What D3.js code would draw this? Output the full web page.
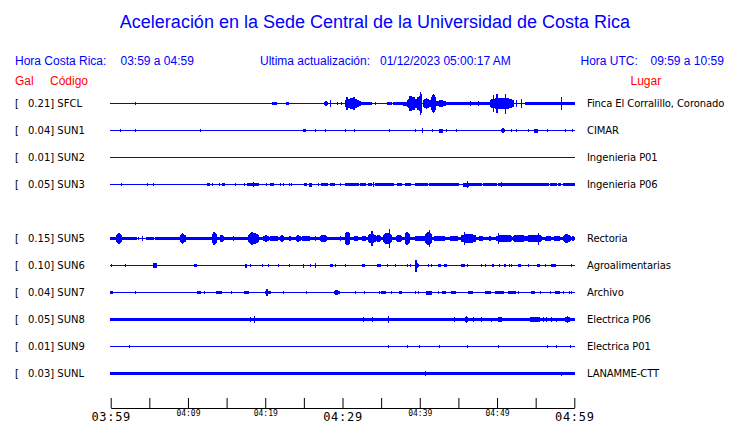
<!DOCTYPE html>
<html><head><meta charset="utf-8">
<script src="https://cdn.jsdelivr.net/npm/d3@7"></script>
<style>body{margin:0;background:#fff}svg{display:block}</style>
</head><body><svg id="c" width="740" height="423"></svg>
<script>
// ---------- data ----------
const title = "Aceleración en la Sede Central de la Universidad de Costa Rica";
const slots = ["SFCL","SUN1","SUN2","SUN3","SUN4","SUN5","SUN6","SUN7","SUN8","SUN9","SUNL"];
const codes = ["SFCL","SUN1","SUN2","SUN3","SUN5","SUN6","SUN7","SUN8","SUN9","SUNL"];
const places = ["Finca El Corralillo, Coronado","CIMAR","Ingenieria P01","Ingenieria P06","Rectoria","Agroalimentarias","Archivo","Electrica P06","Electrica P01","LANAMME-CTT"];
const peaks = [0.21,0.04,0.01,0.05,0.15,0.10,0.04,0.05,0.01,0.03];
const tickMinutes = [0,5,10,15,20,25,30,35,40,45,50,55,60];
const tickLabels = ["03:59","","04:09","","04:19","","04:29","","04:39","","04:49","","04:59"];
const majorLabels = ["03:59","04:29","04:59"];

// bursts: [startMinute, endMinute, halfAmplitude (gal)]
const sfcl = [[0.47,0.47,0.012],[3.19,3.19,0.023],[19.89,19.89,0.012],[20.4,20.4,0.012],[20.97,21.48,0.018],[21.25,21.25,0.023],[22.78,23.0,0.029],[27.65,28.08,0.041],[28.39,28.39,0.058],[29.34,29.34,0.023],[29.81,29.81,0.023],
 [30.33,32.05,0.09],[30.5,30.6,0.117],[31.4,31.5,0.117],[32.05,33.69,0.023],[32.05,32.5,0.041],
 [34.3,34.3,0.018],[35.85,36.37,0.023],[36.63,37.88,0.023],
 [37.88,38.4,0.035],[38.4,39.6,0.09],[38.7,38.9,0.134],[39.1,39.3,0.117],[39.6,40.03,0.117],[40.03,40.25,0.205],[40.47,41.33,0.088],[41.54,41.98,0.17],[42.19,43.27,0.058],
 [43.27,49.09,0.023],[46.6,46.6,0.041],[47.6,47.6,0.041],
 [49.09,52.11,0.1],[49.5,49.6,0.146],[49.96,50.0,0.164],[51.04,51.1,0.175],[52.55,52.55,0.058],[53.19,53.19,0.082],
 [53.62,60,0.023],[55.35,56.21,0.029],[58.37,58.37,0.117]];
const sun1 = [[1.25,1.25,0.023],[3.19,3.19,0.023],[8.37,8.37,0.012],[11.65,11.65,0.023],[17.3,17.3,0.012],[18.59,18.59,0.012],[24.94,25.15,0.023],[26.49,26.49,0.023],[27.78,27.78,0.023],[30.37,30.37,0.018],[31.54,31.54,0.018],[36.02,36.02,0.018],[38.01,38.01,0.012],[39.43,39.43,0.018],[40.34,40.34,0.041],[41.67,41.67,0.018],[42.54,42.92,0.035],[43.44,43.44,0.018],[44.74,44.74,0.018],[50.6,50.95,0.047],[51.9,51.9,0.018],[52.55,52.55,0.018],[54.06,54.06,0.018],[54.79,55.22,0.035],[56.51,56.51,0.018],[57.29,57.29,0.012],[58.8,58.8,0.018],[59.79,59.79,0.018]];
const sun2 = [[39.95,39.95,0.01]];
const sun3 = [[0.78,0.78,0.012],[1.34,1.34,0.029],[2.93,2.93,0.012],[4.36,4.36,0.012],[4.79,4.79,0.018],[5.57,5.57,0.023],[8.37,8.37,0.012],[12.55,12.73,0.029],[13.16,13.16,0.018],[14.06,14.06,0.018],[14.45,14.71,0.023],[16.09,16.09,0.018],[16.44,16.44,0.012],[17.3,17.3,0.018],[17.73,19.11,0.029],[18.46,18.46,0.041],[20.1,20.1,0.018],[20.66,21.1,0.029],[21.92,21.92,0.018],[22.39,22.39,0.018],[23.08,23.08,0.018],[23.43,23.43,0.018],[25.02,25.28,0.018],[25.75,26.01,0.035],[26.88,26.88,0.018],[27.31,28.08,0.029],[28.47,28.9,0.023],[29.68,29.68,0.018],[30.33,32.05,0.029],[32.27,33.0,0.029],[33.35,33.78,0.023],[33.99,33.99,0.047],[34.21,36.58,0.029],[37.1,37.66,0.023],[38.09,38.74,0.029],[39.39,41.0,0.029],[41.3,43.3,0.029],[43.5,45.0,0.029],[45.64,46.29,0.035],[46.2,46.2,0.058],[46.5,48.0,0.029],[48.23,49.96,0.029],[50.17,52.33,0.029],[50.6,50.6,0.041],[52.55,56.64,0.029],[56.86,57.72,0.029],[57.94,58.15,0.029],[58.58,60,0.029]];
const sun5 = [[0,3.36,0.029],[5.74,60,0.029],[0.78,1.42,0.085],[1.0,1.1,0.094],[3.58,3.58,0.023],[4.1,4.1,0.041],[4.66,5.52,0.018],[8.97,9.62,0.088],[13.16,13.63,0.111],[14.15,14.58,0.07],[15.88,15.88,0.041],[17.82,19.11,0.1],[18.2,18.3,0.117],[19.76,20.41,0.058],[20.62,21.7,0.05],[21.92,22.35,0.058],[23.0,23.43,0.047],[24.07,24.5,0.058],[24.72,25.8,0.05],[26.45,26.45,0.047],[27.09,27.96,0.07],[29.68,29.68,0.041],[30.33,30.97,0.117],[31.41,32.05,0.047],[32.48,33.13,0.047],[33.35,34.21,0.088],[33.78,33.85,0.123],[34.43,34.86,0.07],[35.29,36.37,0.1],[36.02,36.1,0.158],[37.01,37.66,0.07],[38.09,38.61,0.117],[39.39,40.68,0.05],[40.68,41.54,0.11],[41.2,41.27,0.152],[41.76,43.27,0.05],[43.7,45.21,0.041],[45.43,47.15,0.085],[45.77,45.85,0.117],[47.58,48.23,0.047],[48.88,49.31,0.041],[49.96,51.9,0.07],[50.17,50.25,0.1],[52.11,53.62,0.07],[53.84,55.78,0.07],[55.35,55.42,0.105],[56.21,57.07,0.047],[57.29,58.15,0.047],[58.58,59.45,0.076],[59.66,60,0.041]];
const sun6 = [[0.13,0.13,0.018],[0.86,0.86,0.012],[1.94,1.94,0.023],[4.23,4.23,0.012],[5.52,5.95,0.053],[10.91,11.13,0.029],[17.39,17.6,0.035],[18.03,18.03,0.018],[19.63,19.63,0.023],[20.41,20.41,0.023],[21.7,21.7,0.023],[23.08,23.08,0.018],[24.94,24.94,0.035],[25.8,25.8,0.018],[26.53,26.53,0.047],[28.47,28.73,0.029],[29.03,29.03,0.018],[30.33,30.33,0.023],[32.61,32.83,0.029],[34.56,34.9,0.029],[35.85,35.85,0.018],[36.89,36.89,0.018],[38.44,38.44,0.023],[38.74,38.74,0.029],[39.39,39.69,0.06],[39.5,39.56,0.105],[39.82,39.82,0.029],[41.11,41.11,0.023],[41.46,41.46,0.018],[42.41,42.62,0.023],[43.18,43.48,0.029],[45.43,45.73,0.029],[46.2,46.2,0.023],[48.02,48.02,0.023],[48.45,48.45,0.029],[49.4,49.57,0.023],[50.3,50.3,0.018],[50.95,51.12,0.023],[51.55,51.55,0.018],[51.9,51.9,0.018],[52.76,52.98,0.029],[54.06,54.06,0.018],[55.22,55.48,0.029],[56.3,56.3,0.018],[57.07,57.59,0.029],[58.8,58.8,0.012],[59.58,59.58,0.018]];
const sun7 = [[0,0.22,0.023],[3.15,3.15,0.018],[5.74,5.74,0.012],[10.7,10.7,0.012],[11.26,11.56,0.023],[12.12,12.12,0.018],[13.72,14.37,0.029],[15.57,15.57,0.018],[17.3,17.82,0.023],[19.97,20.62,0.029],[20.2,20.3,0.053],[22.35,22.35,0.018],[25.28,25.28,0.018],[28.95,29.55,0.041],[31.71,31.71,0.023],[32.83,32.83,0.018],[34.77,34.77,0.018],[34.99,35.59,0.023],[36.37,36.37,0.018],[37.32,37.58,0.023],[39.47,39.47,0.023],[39.9,39.9,0.018],[40.9,41.46,0.035],[42.41,42.41,0.018],[42.92,43.36,0.029],[44.05,44.57,0.029],[46.29,46.81,0.029],[48.1,48.1,0.012],[48.53,48.53,0.018],[48.66,49.18,0.029],[49.74,50.82,0.029],[51.47,52.33,0.029],[52.76,52.76,0.018],[54.4,54.83,0.023],[55.57,55.57,0.018],[56.86,56.86,0.023],[57.59,58.02,0.029],[58.58,58.58,0.018],[59.01,59.01,0.012],[59.36,59.36,0.018],[59.66,59.66,0.018]];
const sun8 = [[0,60,0.029],[18.12,18.12,0.041],[18.59,18.59,0.053],[32.7,32.7,0.041],[33.87,33.87,0.041],[35.94,35.94,0.053],[44.44,44.44,0.041],[45.86,46.29,0.053],[46.94,46.94,0.041],[48.02,48.02,0.041],[49.31,49.31,0.035],[50.17,50.6,0.053],[54.27,55.57,0.05],[56.0,56.0,0.041],[56.43,56.43,0.041],[57.07,57.07,0.041],[57.72,57.72,0.035],[58.8,59.45,0.053]];
const sun9 = [[2.42,2.42,0.029],[35.94,35.94,0.023],[38.4,38.4,0.018],[39.95,39.95,0.018],[42.54,42.54,0.029],[46.2,46.2,0.029],[50.17,50.17,0.023],[56.51,56.51,0.023],[57.72,57.72,0.018],[59.45,59.45,0.029]];
const sunl = [[0,60,0.029],[40.73,40.73,0.047],[58.28,58.28,0.035]];
const bursts = [sfcl,sun1,sun2,sun3,sun5,sun6,sun7,sun8,sun9,sunl];

// ---------- drawing ----------
const svg = d3.select("#c");
const blue = "#0000ff", red = "#ff0000";
const sans = "'Liberation Sans', Arial, sans-serif";
const dv = "'DejaVu Sans', sans-serif";
const mono = "'DejaVu Sans Mono', monospace";

svg.append("text").attr("x", 375).attr("y", 28).attr("text-anchor","middle")
  .attr("fill", blue).style("font-family", sans).style("font-size","18px").text(title);

const hdr = [["Hora Costa Rica:",15],["03:59 a 04:59",120.5],["Ultima actualización:",260],["01/12/2023 05:00:17 AM",380],["Hora UTC:",580.5],["09:59 a 10:59",650.5]];
svg.selectAll("text.h").data(hdr).join("text").attr("class","h")
  .attr("x", d=>d[1]).attr("y", 65).attr("fill", blue)
  .style("font-family", sans).style("font-size","12px").text(d=>d[0]);
const hdr2 = [["Gal",15],["Código",50],["Lugar",630.5]];
svg.selectAll("text.h2").data(hdr2).join("text").attr("class","h2")
  .attr("x", d=>d[1]).attr("y", 84.5).attr("fill", red)
  .style("font-family", sans).style("font-size","12px").text(d=>d[0]);

const x = d3.scaleLinear().domain([0,60]).range([110.7,574.3]);
const y = d3.scalePoint().domain(slots).range([103.5,373.5]);
const a = d3.scaleLinear().domain([0,0.21]).range([0,12]);

// spindle-shaped envelope for wider bursts (rendering only)
function envelope(b, tm) {
  const w = b[1] - b[0];
  if (w < 0.2 || b[2] < 0.04) return b[2];
  const u = Math.abs((tm - (b[0] + b[1]) / 2) / (w / 2));
  return b[2] * (1 - 0.35 * Math.min(1, u) * Math.min(1, u));
}

codes.forEach((code,i) => {
  const yc = y(code);
  const list = bursts[i];
  const pts = [];
  const x0 = Math.floor(x(0)), x1 = Math.ceil(x(60));
  for (let px = x0; px <= x1; px++) {
    const t0 = x.invert(px), t1 = x.invert(px+1), tm = (t0 + t1) / 2;
    let amp = 0;
    list.forEach(b => { if (b[0] <= t1 && b[1] >= t0) amp = Math.max(amp, envelope(b, tm)); });
    pts.push({t: t0, h: Math.max(0.5, a(amp))});
  }
  const area = d3.area().curve(d3.curveStepAfter)
    .x(d => x(d.t)).y0(d => yc + d.h).y1(d => yc - d.h);
  svg.append("path").datum(pts).attr("d", area).attr("fill", blue)
    .attr("shape-rendering","crispEdges");

  svg.append("text").attr("x", 15).attr("y", yc + 3.5).attr("fill","#000")
    .style("font-family", dv).style("font-size","10px").text("[");
  svg.append("text").attr("x", 28).attr("y", yc + 3.5).attr("fill","#000")
    .style("font-family", dv).style("font-size","10px").text(peaks[i].toFixed(2) + "] " + code);
  svg.append("text").attr("x", 587).attr("y", yc + 3.5).attr("fill","#000")
    .style("font-family", dv).style("font-size","10px").style("letter-spacing","-0.1px").text(places[i]);
});

const axis = d3.axisBottom(x).tickValues(tickMinutes).tickSizeInner(-10).tickSizeOuter(0)
  .tickFormat((d,i) => tickLabels[i]);
const gx = svg.append("g").attr("transform","translate(0,408)").call(axis);
gx.select(".domain").attr("stroke","#000");
gx.selectAll(".tick line").attr("stroke","#000");
gx.selectAll(".tick text").attr("fill","#000").attr("dy", null)
  .style("font-family", mono)
  .each(function(){
    const t = d3.select(this), lab = t.text();
    const major = majorLabels.includes(lab);
    t.attr("y", major ? 12.5 : 8)
     .style("font-size", major ? "12px" : "8px")
     .style("letter-spacing", major ? "0.7px" : "0px");
  });
</script></body></html>
